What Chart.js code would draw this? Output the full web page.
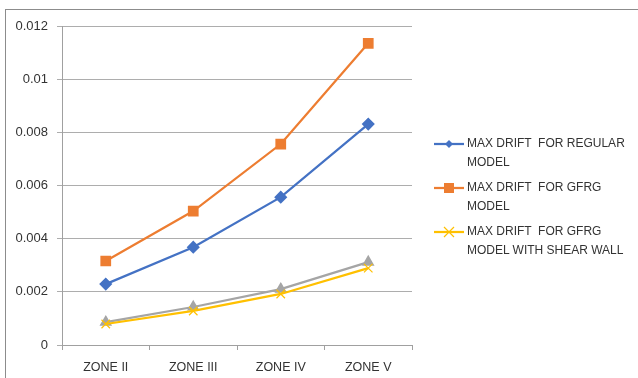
<!DOCTYPE html>
<html>
<head>
<meta charset="utf-8">
<script src="https://cdn.jsdelivr.net/npm/chart.js@4/dist/chart.umd.min.js"></script>
<style>
  body { margin: 0; background: #fff; }
  #wrap { position: relative; width: 638px; height: 378px; }
  #frame { position: absolute; left: 5px; top: 9px; right: 0; bottom: 0;
           border-top: 1px solid #8c8c8c; border-left: 1px solid #8c8c8c; }
  #legend { position: absolute; left: 434px; top: 134px;
            font: 12px "Liberation Sans", Arial, sans-serif; color: #333; }
  .item { display: flex; align-items: flex-start; margin-bottom: 6px; }
  .item svg { flex: none; margin-top: 2px; }
  .item span { white-space: pre; line-height: 19px; margin-left: 3px; }
</style>
</head>
<body>
<div id="wrap">
  <div id="frame"></div>
  <canvas id="driftChart" width="638" height="378"></canvas>
  <div id="legend"></div>
</div>
<script>
// Kategori zona gempa
const zones = ['ZONE II', 'ZONE III', 'ZONE IV', 'ZONE V'];

// Nilai drift maksimum per model
const regularDrift = [0.00229, 0.00368, 0.00556, 0.00831];
const gfrgDrift = [0.00316, 0.00504, 0.00756, 0.01135];
const shearWallDrift = [0.00079, 0.00128, 0.00192, 0.00289];
const unnamedDrift = [0.00086, 0.00143, 0.0021, 0.00312];  // seri abu-abu, tidak ada di legend

const seriesNames = [
  'MAX DRIFT  FOR REGULAR\nMODEL',
  'MAX DRIFT  FOR GFRG\nMODEL',
  'MAX DRIFT  FOR GFRG\nMODEL WITH SHEAR WALL'
];

const yTicks = [0, 0.002, 0.004, 0.006, 0.008, 0.01, 0.012];

const family = '"Liberation Sans", Arial, sans-serif';

const ctx = document.getElementById('driftChart').getContext('2d');
const driftChart = new Chart(ctx, {
  type: 'line',
  data: {
    labels: zones,
    datasets: [
      {
        label: seriesNames[0], data: regularDrift,
        borderColor: '#4472C4', backgroundColor: '#4472C4',
        pointStyle: 'rectRot', pointRadius: 5, borderWidth: 2.25
      },
      {
        label: seriesNames[1], data: gfrgDrift,
        borderColor: '#ED7D31', backgroundColor: '#ED7D31',
        pointStyle: 'rect', pointRadius: 6, borderWidth: 2.25
      },
      {
        label: seriesNames[2], data: shearWallDrift,
        borderColor: '#FFC000', backgroundColor: '#FFC000',
        pointStyle: 'crossRot', pointRadius: 6, pointBorderWidth: 1.2, borderWidth: 2.25
      },
      {
        label: 'gray', data: unnamedDrift,
        borderColor: '#A5A5A5', backgroundColor: '#A5A5A5',
        pointStyle: 'triangle', pointRadius: 5, borderWidth: 2.25
      }
    ]
  },
  options: {
    responsive: false,
    animation: false,
    layout: { padding: { left: 0, top: 26, right: 226, bottom: 0 } },
    plugins: { legend: { display: false }, tooltip: { enabled: false } },
    scales: {
      x: {
        offset: true,
        grid: { offset: true, drawOnChartArea: false, tickLength: 5, color: '#a0a0a0' },
        border: { color: '#a0a0a0' },
        ticks: { font: { family: family, size: 12.5 }, color: '#333', padding: 10, maxRotation: 0 },
        afterFit: (scale) => { scale.height = 33; }
      },
      y: {
        min: 0, max: 0.012,
        afterBuildTicks: (scale) => { scale.ticks = yTicks.map(v => ({ value: v })); },
        grid: { tickLength: 5, color: '#adadad' },
        border: { color: '#a0a0a0' },
        ticks: { font: { family: family, size: 13 }, color: '#333', padding: 9,
                 callback: (v) => String(+v.toFixed(3)) },
        afterFit: (scale) => { scale.width = 62; }
      }
    }
  }
});

// Legend manual (hanya tiga seri pertama)
const legend = document.getElementById('legend');
driftChart.data.datasets.slice(0, 3).forEach((ds) => {
  const item = document.createElement('div');
  item.className = 'item';
  const c = ds.borderColor;
  let marker = '';
  if (ds.pointStyle === 'rectRot') marker = `<polygon points="15,4 19,8 15,12 11,8" fill="${c}"/>`;
  if (ds.pointStyle === 'rect') marker = `<rect x="10" y="3" width="10" height="10" fill="${c}"/>`;
  if (ds.pointStyle === 'crossRot') marker = `<path d="M10,3 L20,13 M20,3 L10,13" stroke="${c}" stroke-width="1.2"/>`;
  item.innerHTML = `<svg width="30" height="16"><line x1="0" y1="8" x2="30" y2="8" stroke="${c}" stroke-width="2.25"/>${marker}</svg><span>${ds.label}</span>`;
  legend.appendChild(item);
});
</script>
</body>
</html>
